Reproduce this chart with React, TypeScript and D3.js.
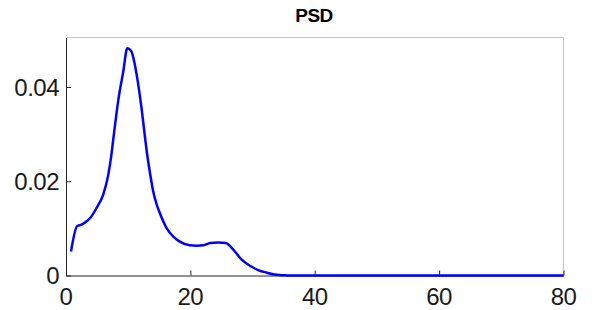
import { useEffect, useRef } from "react";
import * as d3 from "d3";

// Frequency (Hz) and power values
const freqs = [
  0.8, 1.8, 2.5, 3.0, 3.9, 4.9, 6.0, 6.8, 7.3, 7.7, 8.5, 9.2, 9.85, 10.5, 11.0,
  11.5, 12.1, 12.6, 13.0, 13.5, 14.0, 14.6, 15.1, 16.2, 17.3, 18.3, 19.9, 21.0,
  22.1, 23.2, 24.5, 25.7, 26.9, 28.2, 29.8, 31.0, 32.3, 33.5, 35.0, 36.0, 40,
  50, 60, 70, 80,
];
const power = [
  0.0051, 0.0105, 0.0108, 0.0112, 0.0122, 0.0143, 0.0172, 0.0214, 0.0256, 0.03,
  0.038, 0.0432, 0.0482, 0.0476, 0.0452, 0.0415, 0.036, 0.0305, 0.0262, 0.0218,
  0.018, 0.015, 0.0132, 0.01, 0.0082, 0.0072, 0.0064, 0.0063, 0.0064, 0.0069,
  0.007, 0.0069, 0.0055, 0.0034, 0.0019, 0.0011, 0.0006, 0.0002, 0.00005, 0, 0,
  0, 0, 0, 0,
];

const xTicks = [0, 20, 40, 60, 80];
const yTicks = [0, 0.02, 0.04];
const yTickLabels = ["0", "0.02", "0.04"];

export default function App() {
  const svgRef = useRef(null);

  useEffect(() => {
    const svg = d3.select(svgRef.current);
    svg.selectAll("*").remove();

    const left = 66;
    const right = 563.5;
    const top = 37.5;
    const bottom = 275.5;

    const x = d3.scaleLinear().domain([0, 80]).range([left, right]);
    const y = d3.scaleLinear().domain([0, 0.0505]).range([bottom, top]);

    // light frame on top/right
    svg
      .append("path")
      .attr("d", `M${left},${top}H${right}V${bottom}`)
      .attr("fill", "none")
      .attr("stroke", "#c4c4c4")
      .attr("stroke-width", 1);

    // axes (inward ticks, like MATLAB)
    const xAxis = svg
      .append("g")
      .attr("transform", `translate(0,${bottom})`)
      .call(d3.axisBottom(x).tickValues(xTicks).tickSizeInner(-5).tickSizeOuter(0).tickFormat(() => ""));
    xAxis.select(".domain").attr("stroke", "#262626");
    xAxis.selectAll(".tick line").attr("stroke", "#262626");

    const yAxis = svg
      .append("g")
      .attr("transform", `translate(${left},0)`)
      .call(d3.axisLeft(y).tickValues(yTicks).tickSizeInner(-5).tickSizeOuter(0).tickFormat(() => ""));
    yAxis.select(".domain").attr("stroke", "#262626");
    yAxis.selectAll(".tick line").attr("stroke", "#262626");

    const font = "Liberation Sans, Arial, sans-serif";

    svg
      .selectAll("text.xlab")
      .data(xTicks)
      .join("text")
      .attr("class", "xlab")
      .attr("x", (d) => x(d))
      .attr("y", 304.5)
      .attr("text-anchor", "middle")
      .attr("font-family", font)
      .attr("font-size", "24px")
      .attr("letter-spacing", "-0.5px")
      .attr("fill", "#1a1a1a")
      .text((d) => d);

    svg
      .selectAll("text.ylab")
      .data(yTicks)
      .join("text")
      .attr("class", "ylab")
      .attr("x", 59)
      .attr("y", (d) => y(d) + 8.8)
      .attr("text-anchor", "end")
      .attr("font-family", font)
      .attr("font-size", "24px")
      .attr("letter-spacing", "-0.5px")
      .attr("fill", "#1a1a1a")
      .text((_d, i) => yTickLabels[i]);

    svg
      .append("text")
      .attr("x", 314)
      .attr("y", 21.5)
      .attr("text-anchor", "middle")
      .attr("font-family", font)
      .attr("font-size", "19px")
      .attr("font-weight", "bold")
      .attr("letter-spacing", "-0.6px")
      .attr("fill", "#000")
      .text("PSD");

    const line = d3
      .line()
      .x((_d, i) => x(freqs[i]))
      .y((d) => y(d))
      .curve(d3.curveMonotoneX);

    svg
      .append("path")
      .datum(power)
      .attr("d", line)
      .attr("fill", "none")
      .attr("stroke", "#0000ff")
      .attr("stroke-width", 2.5)
      .attr("stroke-linejoin", "round");
  }, []);

  return (
    <svg
      ref={svgRef}
      width={595}
      height={310}
      style={{ position: "absolute", left: 0, top: 0, background: "#fff" }}
    />
  );
}
